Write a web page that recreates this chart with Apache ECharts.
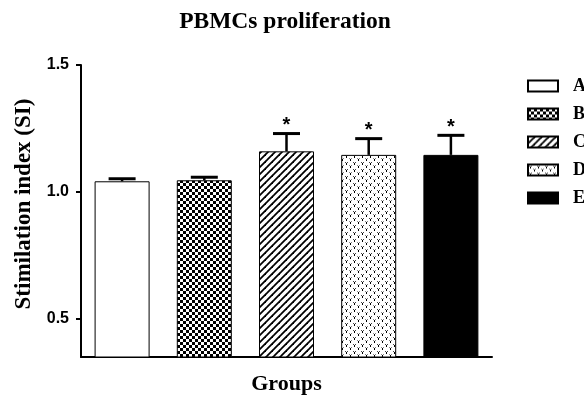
<!DOCTYPE html>
<html>
<head>
<meta charset="utf-8">
<script src="https://cdn.jsdelivr.net/npm/echarts@6/dist/echarts.min.js"></script>
<style>html,body{margin:0;padding:0;background:#fff}#c{width:584px;height:400px}</style>
</head>
<body>
<div id="c"></div>
<script>
var categories = ['A', 'B', 'C', 'D', 'E'];
var values = [1.042, 1.046, 1.160, 1.146, 1.146];
var errors = [0.010, 0.012, 0.070, 0.064, 0.077];
var significant = ['', '', '*', '*', '*'];
var yTicks = [0.5, 1.0, 1.5];

function makeCanvas(w, h, draw) {
  var c = document.createElement('canvas');
  c.width = w; c.height = h;
  var ctx = c.getContext('2d');
  ctx.fillStyle = '#fff';
  ctx.fillRect(0, 0, w, h);
  draw(ctx);
  return c;
}
var checker = makeCanvas(6, 6, function (ctx) {
  ctx.fillStyle = '#000';
  ctx.fillRect(0, 0, 3, 3);
  ctx.fillRect(3, 3, 3, 3);
});
var diag = makeCanvas(7, 7, function (ctx) {
  ctx.strokeStyle = '#000';
  ctx.lineWidth = 1.8;
  for (var k = -1; k <= 1; k++) {
    ctx.beginPath();
    ctx.moveTo(-1 + k * 7, 8);
    ctx.lineTo(8 + k * 7, -1);
    ctx.stroke();
  }
});
var dots = makeCanvas(8, 7, function (ctx) {
  ctx.fillStyle = '#444';
  ctx.fillRect(1, 1, 1, 1);
  ctx.fillRect(3, 1, 1, 1);
  ctx.fillStyle = '#000';
  ctx.fillRect(2, 2, 1, 2);
  ctx.fillStyle = '#888';
  ctx.fillRect(5, 4, 1, 1);
  ctx.fillRect(7, 4, 1, 1);
  ctx.fillStyle = '#000';
  ctx.fillRect(6, 5, 1, 2);
});
var fills = [
  '#ffffff',
  { image: checker, repeat: 'repeat' },
  { image: diag, repeat: 'repeat' },
  { image: dots, repeat: 'repeat' },
  '#000000'
];

var barSeries = categories.map(function (name, i) {
  var d = categories.map(function (_, j) { return j === i ? values[i] : '-'; });
  return {
    name: name,
    type: 'bar',
    data: d,
    barWidth: 55,
    barGap: '-100%',
    itemStyle: { color: fills[i], borderColor: '#000', borderWidth: 1 },
    z: 2
  };
});

var errData = categories.map(function (_, i) { return [i, values[i], errors[i], significant[i]]; });

var option = {
  animation: false,
  backgroundColor: '#fff',
  title: {
    text: 'PBMCs proliferation',
    left: 285, top: 10, textAlign: 'center', padding: 0,
    textStyle: { fontFamily: 'Liberation Serif', fontWeight: 'bold', fontSize: 23.5, color: '#000' }
  },
  legend: {
    orient: 'vertical',
    left: 527, top: 77,
    padding: 0,
    icon: 'rect',
    itemWidth: 30, itemHeight: 11, itemGap: 10,
    data: categories,
    textStyle: { fontFamily: 'Liberation Serif', fontWeight: 'bold', fontSize: 18, color: '#000', padding: [0, 0, 0, 10] }
  },
  grid: { left: 81, right: 92, top: 65, bottom: 41, containLabel: false },
  xAxis: {
    type: 'category',
    data: categories,
    name: 'Groups',
    nameLocation: 'middle',
    nameGap: 16,
    nameTextStyle: { fontFamily: 'Liberation Serif', fontWeight: 'bold', fontSize: 22, color: '#000', verticalAlign: 'top' },
    axisLine: { lineStyle: { color: '#000', width: 2 } },
    axisTick: { show: false },
    axisLabel: { show: false }
  },
  yAxis: {
    type: 'value',
    min: 0.35, max: 1.5,
    name: 'Stimilation index (SI)',
    nameLocation: 'middle',
    nameGap: 45,
    nameTextStyle: { fontFamily: 'Liberation Serif', fontWeight: 'bold', fontSize: 23, color: '#000', padding: [0, 0, 0, 14] },
    splitLine: { show: false },
    axisLine: { show: true, lineStyle: { color: '#000', width: 2 } },
    axisTick: { show: true, length: 5, lineStyle: { width: 2, color: '#000' }, customValues: yTicks },
    axisLabel: {
      customValues: yTicks,
      margin: 12,
      fontFamily: 'Liberation Sans', fontWeight: 'bold', fontSize: 16, color: '#000',
      formatter: function (v) { return v.toFixed(1); }
    }
  },
  series: barSeries.concat([{
    type: 'custom',
    data: errData,
    z: 5,
    silent: true,
    renderItem: function (params, api) {
      var i = api.value(0);
      var base = api.coord([i, api.value(1)]);
      var top = api.coord([i, api.value(1) + api.value(2)]);
      var half = 13.5;
      var children = [
        { type: 'line', shape: { x1: base[0], y1: base[1], x2: top[0], y2: top[1] }, style: { stroke: '#000', lineWidth: 2.5 } },
        { type: 'line', shape: { x1: top[0] - half, y1: top[1], x2: top[0] + half, y2: top[1] }, style: { stroke: '#000', lineWidth: 3 } }
      ];
      var star = significant[i];
      if (star) {
        children.push({ type: 'text', style: { text: star, x: top[0], y: top[1] - 8, align: 'center', verticalAlign: 'middle', fontFamily: 'Liberation Sans', fontWeight: 'bold', fontSize: 20, fill: '#000' } });
      }
      return { type: 'group', children: children };
    }
  }])
};
var chart = echarts.init(document.getElementById('c'), null, { renderer: 'canvas' });
chart.setOption(option);
</script>
</body>
</html>
